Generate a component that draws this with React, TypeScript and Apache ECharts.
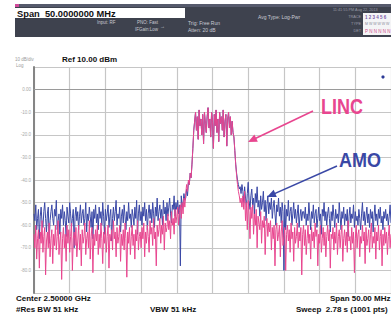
import React, { useEffect, useRef } from "react";
import * as echarts from "echarts";

// Sweep: Center 2.5 GHz, Span 50 MHz
const START_MHZ = 2475;
const STOP_MHZ = 2525;
const STEP_MHZ = 0.125;

// Y scale (dBm): Ref 10 dBm, 10 dB/div
const Y_MIN = -90;
const Y_MAX = 10;
const Y_STEP = 10;

// AMO trace (blue), dBm
const amoLeft = [
  -55, -58, -51, -62, -57, -53, -66, -56, -52, -59,
  -61, -54, -50, -57, -63, -55, -52, -68, -58, -54,
  -51, -57, -60, -53, -56, -49, -62, -58, -55, -64,
  -53, -57, -51, -60, -54, -58, -65, -52, -56, -59,
  -50, -55, -61, -57, -53, -70, -56, -52, -58, -54,
  -62, -56, -51, -59, -55, -53, -60, -57, -50, -63,
  -55, -58, -52, -56, -61, -54, -66, -53, -57, -51,
  -59, -55, -62, -52, -57, -54, -60, -50, -56, -64,
  -53, -58, -55, -51, -61, -56, -53, -67, -57, -52,
  -58, -54, -49, -60, -55, -57, -52, -63, -56, -53,
  -59, -51, -56, -62, -54, -58, -50, -57, -55, -61,
  -53, -56, -60, -52, -57, -49, -64, -55, -51, -58,
  -54, -60, -52, -56, -50, -58, -53, -62, -55, -51,
  -57, -53, -59, -50, -55, -61, -52, -56, -48, -58,
  -54, -51, -57, -53, -60, -49, -55, -52, -58, -50,
  -56, -52, -48, -55, -59, -51, -53, -47, -56, -50,
  -53, -49, -55, -51, -78, -47, -52, -50, -46, -49,
];
const amoShoulderL = [-48, -44, -47, -41, -42, -37, -39, -33, -26, -18];
const amoPeak = [
  -14, -10, -18, -12, -22, -9, -16, -13, -20, -11,
  -24, -10, -15, -19, -12, -8, -17, -13, -21, -10,
  -14, -26, -11, -16, -9, -19, -13, -23, -10, -15,
  -12, -18, -9, -21, -14, -11, -25, -13, -10, -17,
  -12, -20, -14, -19,
];
const amoShoulderR = [-21, -27, -33, -37, -40, -42, -44, -43, -46, -42];
const amoRight = [
  -45, -50, -43, -48, -52, -46, -41, -49, -53, -47,
  -44, -51, -48, -55, -46, -50, -43, -52, -49, -56,
  -47, -53, -50, -45, -54, -49, -58, -51, -47, -55,
  -50, -53, -48, -57, -52, -49, -55, -60, -51, -54,
  -48, -56, -52, -59, -50, -54, -80, -51, -62, -53,
  -56, -49, -58, -54, -52, -60, -55, -50, -57, -53,
  -59, -55, -51, -61, -56, -53, -58, -54, -54, -57,
  -52, -60, -55, -58, -50, -56, -62, -54, -57, -51,
  -59, -55, -53, -61, -57, -52, -58, -55, -64, -53,
  -56, -50, -58, -54, -60, -55, -52, -57, -63, -54,
  -58, -51, -56, -61, -53, -57, -55, -59, -50, -56,
  -62, -54, -57, -52, -60, -55, -58, -53, -65, -56,
  -52, -59, -55, -57, -51, -61, -54, -58, -56, -60,
  -53, -57, -62, -55, -50, -58, -54, -60, -56, -52,
  -59, -55, -61, -53, -57, -54, -63, -56, -51, -58,
  -55, -60, -53, -57, -52, -59, -56, -62, -54, -57,
  -53, -58, -55, -60, -56, -51, -59,
];

// LINC trace (pink), dBm
const lincLeft = [
  -64, -70, -60, -75, -66, -62, -79, -63, -68, -58,
  -72, -65, -61, -82, -67, -63, -70, -59, -74, -66,
  -62, -77, -64, -69, -60, -71, -65, -58, -73, -67,
  -63, -84, -66, -61, -70, -64, -76, -60, -68, -62,
  -72, -65, -59, -80, -66, -63, -69, -61, -74, -67,
  -60, -71, -64, -78, -62, -68, -65, -59, -73, -66,
  -63, -70, -58, -75, -65, -61, -81, -64, -69, -62,
  -67, -60, -73, -64, -70, -59, -66, -77, -63, -68,
  -61, -72, -65, -60, -79, -64, -67, -62, -71, -58,
  -66, -63, -74, -61, -68, -65, -60, -76, -64, -69,
  -62, -71, -59, -66, -83, -63, -68, -61, -73, -65,
  -60, -69, -64, -75, -62, -67, -58, -71, -65, -63,
  -70, -61, -66, -59, -74, -63, -68, -60, -65, -72,
  -58, -64, -61, -69, -57, -66, -63, -78, -60, -65,
  -62, -57, -68, -60, -64, -56, -71, -59, -63, -61,
  -55, -62, -58, -66, -54, -60, -57, -64, -53, -59,
  -56, -52, -60, -54, -51, -57, -50, -55, -48, -52,
];
const lincShoulderL = [-46, -42, -45, -40, -42, -37, -39, -33, -26, -18];
const lincPeak = [
  -14, -10, -18, -12, -22, -9, -16, -13, -20, -11,
  -24, -10, -15, -19, -12, -8, -17, -13, -21, -10,
  -14, -26, -11, -16, -9, -19, -13, -23, -10, -15,
  -12, -18, -9, -21, -14, -11, -25, -13, -10, -17,
  -12, -20, -14, -19,
];
const lincShoulderR = [-21, -27, -33, -38, -42, -45, -47, -50, -48, -52];
const lincRight = [
  -47, -53, -45, -58, -50, -62, -49, -55, -66, -52,
  -57, -51, -64, -55, -60, -53, -70, -56, -59, -62,
  -54, -68, -58, -61, -56, -73, -60, -57, -65, -59,
  -63, -58, -71, -61, -66, -60, -78, -62, -59, -67,
  -64, -60, -74, -63, -58, -69, -65, -61, -80, -64,
  -60, -67, -62, -72, -59, -66, -63, -76, -61, -68,
  -65, -59, -70, -63, -67, -61, -82, -64, -60, -69,
  -62, -73, -66, -60, -68, -64, -75, -61, -67, -63,
  -70, -59, -65, -62, -78, -64, -68, -60, -72, -66,
  -61, -69, -63, -74, -65, -60, -67, -62, -79, -64,
  -66, -61, -71, -63, -68, -59, -73, -65, -62, -70,
  -64, -60, -76, -66, -62, -69, -63, -72, -58, -67,
  -65, -71, -61, -68, -63, -81, -66, -60, -70, -64,
  -62, -74, -65, -68, -60, -67, -63, -77, -61, -69,
  -66, -62, -72, -64, -59, -70, -65, -68, -61, -75,
  -63, -67, -60, -71, -65, -62, -78, -64, -69, -61,
  -68, -63, -73, -65, -60, -70, -64,
];

const amoDbm = [...amoLeft, ...amoShoulderL, ...amoPeak, ...amoShoulderR, ...amoRight];
const lincDbm = [...lincLeft, ...lincShoulderL, ...lincPeak, ...lincShoulderR, ...lincRight];

const HEADER_TEXTS = {
  span: "Span  50.0000000 MHz",
  input: "Input: RF",
  pno: "PNO: Fast",
  ifgain: "IFGain:Low",
  trig: "Trig: Free Run",
  atten: "Atten: 20 dB",
  avg: "Avg Type: Log-Pwr",
  time: "11:41:55 PM Aug 22, 2013",
};

const PINK = "#e8468f";
const BLUE = "#3a48a6";
const FONT = "Liberation Sans, Arial, sans-serif";

const toPairs = (vals: number[]) => vals.map((v, i) => [START_MHZ + i * STEP_MHZ, v]);

function arrow(x1: number, y1: number, x2: number, y2: number, color: string): any[] {
  const dx = x2 - x1;
  const dy = y2 - y1;
  const len = Math.sqrt(dx * dx + dy * dy);
  const ux = dx / len;
  const uy = dy / len;
  const hl = 9;
  const hw = 4;
  const bx = x2 - ux * hl;
  const by = y2 - uy * hl;
  return [
    {
      type: "line",
      shape: { x1, y1, x2: x2 - ux * 4, y2: y2 - uy * 4 },
      style: { stroke: color, lineWidth: 1.6 },
      z: 100,
    },
    {
      type: "polygon",
      shape: {
        points: [
          [x2, y2],
          [bx - uy * hw, by + ux * hw],
          [bx + uy * hw, by - ux * hw],
        ],
      },
      style: { fill: color },
      z: 100,
    },
  ];
}

function txt(x: number, y: number, text: string, size: number, fill: string, weight: string = "normal", extra: any = {}): any {
  return {
    type: "text",
    x,
    y,
    z: 50,
    style: {
      text,
      fontSize: size,
      fontFamily: FONT,
      fontWeight: weight,
      fill,
      textVerticalAlign: "middle",
      textBaseline: "middle",
      ...extra,
    },
  };
}

export default function App() {
  const ref = useRef<HTMLDivElement>(null);

  useEffect(() => {
    if (!ref.current) return;
    const chart = echarts.init(ref.current, undefined, { renderer: "svg" });

    const headerColor = "#c9cbd3";
    const graphic: any[] = [
      { type: "rect", shape: { x: 15, y: 4, width: 376, height: 33 }, style: { fill: "#3e424e" }, z: 10 },
      { type: "rect", shape: { x: 15, y: 4, width: 376, height: 3 }, style: { fill: "#565a6c" }, z: 11 },
      { type: "rect", shape: { x: 15, y: 4, width: 4, height: 3 }, style: { fill: "#d04a9a" }, z: 12 },
      { type: "rect", shape: { x: 15, y: 8, width: 170, height: 10 }, style: { fill: "#ffffff" }, z: 12 },
      txt(17, 13.5, HEADER_TEXTS.span, 9.3, "#111", "bold"),
      txt(97, 22, HEADER_TEXTS.input, 4.5, headerColor),
      txt(137, 22, HEADER_TEXTS.pno, 4.5, headerColor),
      txt(135, 29, HEADER_TEXTS.ifgain, 4.5, headerColor),
      txt(160, 26, "\u2192", 5, headerColor),
      txt(188, 23, HEADER_TEXTS.trig, 5, headerColor),
      txt(188, 30, HEADER_TEXTS.atten, 5, headerColor),
      txt(258, 17, HEADER_TEXTS.avg, 5, headerColor),
      txt(333, 10, HEADER_TEXTS.time, 3.8, "#9a9ca8"),
      txt(361, 17, "TRACE", 3.8, "#9a9ca8", "normal", { align: "right", textAlign: "right" }),
      txt(361, 24, "TYPE", 3.8, "#9a9ca8", "normal", { align: "right", textAlign: "right" }),
      txt(361, 31, "DET", 3.8, "#9a9ca8", "normal", { align: "right", textAlign: "right" }),
      { type: "rect", shape: { x: 363, y: 13, width: 28, height: 22 }, style: { fill: "#f4f4f6" }, z: 12 },
      txt(365, 17, "1 2 3 4 5 6", 4.5, "#7a5aa8", "bold"),
      txt(365, 24, "M W W W W W", 3.5, "#8a8a9a"),
      txt(365, 31, "P N N N N N", 4.5, "#d0508a"),
      txt(15, 59, "10 dB/div", 4.5, "#9a9a9a"),
      txt(16, 65, "Log", 4.5, "#9a9a9a"),
      txt(62, 59, "Ref 10.00 dBm", 8, "#111", "bold"),
      { type: "circle", shape: { cx: 383, cy: 77, r: 1.6 }, style: { fill: "#2c3a96" }, z: 60 },
      txt(16, 298, "Center 2.50000 GHz", 8, "#111", "bold"),
      txt(16, 309, "#Res BW 51 kHz", 8, "#111", "bold"),
      txt(150, 309, "VBW 51 kHz", 8, "#111", "bold"),
      txt(330, 298, "Span 50.00 MHz", 8, "#111", "bold"),
      txt(296, 309, "Sweep  2.78 s (1001 pts)", 8, "#111", "bold"),
      {
        type: "text", x: 321, y: 106, scaleX: 0.82, z: 100,
        style: { text: "LINC", fontSize: 22, fontWeight: "bold", fontFamily: FONT, fill: PINK, textVerticalAlign: "middle", textBaseline: "middle" },
      },
      {
        type: "text", x: 339, y: 160, scaleX: 0.9, z: 100,
        style: { text: "AMO", fontSize: 20, fontWeight: "bold", fontFamily: FONT, fill: BLUE, textVerticalAlign: "middle", textBaseline: "middle" },
      },
      ...arrow(313, 111, 248, 142, PINK),
      ...arrow(337, 166, 267, 197, BLUE),
    ];

    chart.setOption({
      animation: false,
      backgroundColor: "#ffffff",
      grid: { left: 34, top: 67, width: 361, height: 226 },
      xAxis: {
        type: "value",
        min: START_MHZ,
        max: STOP_MHZ,
        interval: 5,
        axisLabel: { show: false },
        axisTick: { show: false },
        axisLine: { show: true, lineStyle: { color: "#9a9a9a", width: 1.2 } },
        splitLine: { show: true, lineStyle: { color: "#c6c6c6", width: 1.2 } },
      },
      yAxis: {
        type: "value",
        min: Y_MIN,
        max: Y_MAX,
        interval: Y_STEP,
        axisLabel: {
          show: true,
          fontSize: 4.5,
          color: "#a8a8a8",
          margin: 3,
          fontFamily: FONT,
          formatter: (v: number) => (v === Y_MAX || v === Y_MIN ? "" : v === 0 ? "0.00" : v.toFixed(1)),
        },
        axisTick: { show: false },
        axisLine: { show: true, lineStyle: { color: "#858585", width: 2 } },
        splitLine: { show: true, lineStyle: { color: "#c6c6c6", width: 1.2 } },
      },
      series: [
        {
          name: "AMO",
          type: "line",
          data: toPairs(amoDbm),
          showSymbol: false,
          symbol: "none",
          lineStyle: { color: BLUE, width: 1 },
          z: 3,
        },
        {
          name: "LINC",
          type: "line",
          data: toPairs(lincDbm),
          showSymbol: false,
          symbol: "none",
          lineStyle: { color: PINK, width: 1 },
          z: 4,
        },
      ],
      graphic,
    });

    return () => chart.dispose();
  }, []);

  return (
    <div
      ref={ref}
      style={{ position: "fixed", left: 0, top: 0, width: 391, height: 320, background: "#fff" }}
    />
  );
}
